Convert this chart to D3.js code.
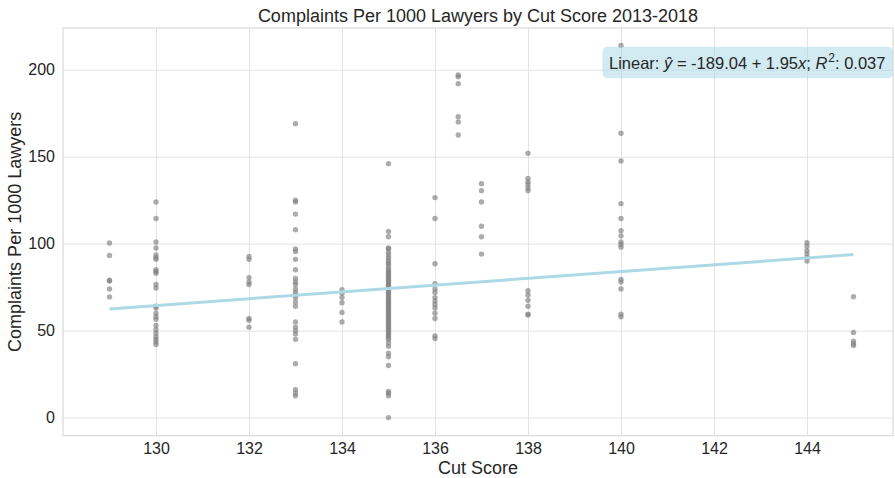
<!DOCTYPE html>
<html>
<head>
<meta charset="utf-8">
<script src="https://cdn.jsdelivr.net/npm/d3@7"></script>
<style>
  html, body { margin: 0; padding: 0; background: #fff; }
  svg { display: block; font-family: "Liberation Sans", Arial, sans-serif; }
</style>
</head>
<body>
<svg id="chart" width="895" height="478"></svg>
<script>
// ---- Data ----
const title = "Complaints Per 1000 Lawyers by Cut Score 2013-2018";
const xLabel = "Cut Score";
const yLabel = "Complaints Per 1000 Lawyers";
const xTicks = [130, 132, 134, 136, 138, 140, 142, 144];
const yTicks = [0, 50, 100, 150, 200];
const cutScores = [129, 130, 132, 133, 134, 135, 136, 136.5, 137, 138, 140, 144, 145];
const complaints129 = [100.4, 93.2, 79, 78.5, 73.9, 69.4];
const complaints130 = [124, 114.5, 101, 97.5, 93.5, 92, 91, 85, 84, 83, 76.5, 74.5, 64, 63, 60, 58, 56.5, 53, 50.5, 48.5, 46.5, 45, 43.5, 42];
const complaints132 = [92.6, 91, 80.5, 78, 76.5, 57, 56, 52];
const complaints133 = [169, 125, 124, 117, 108, 97, 95.5, 91, 85, 80, 78, 76.5, 74, 72, 70.5, 69, 66.5, 64, 55, 52, 50, 48, 45, 31, 16, 14, 12.5];
const complaints134 = [73.5, 71.5, 69, 66, 60.5, 55];
const complaints135 = [146, 107, 104, 97.5, 97, 95, 93.5, 92, 90.5, 89, 88, 86.5, 85, 84, 83, 82, 81, 80, 79, 78, 77, 76, 75, 74, 73, 72, 71, 70, 69, 68, 67, 66, 65, 64, 63, 62, 61, 60, 59, 58, 57, 56, 55, 54, 53, 52, 51, 50, 49, 48, 47, 46, 45, 43, 41, 37, 35, 30, 15, 14, 12.5, 0];
const complaints136 = [126.5, 114.5, 88.5, 77, 74, 72, 69, 67, 65, 63, 60, 57, 47, 45.5];
const complaints1365 = [197, 196, 192, 173, 170, 162.5];
const complaints137 = [134.5, 130.5, 124, 110, 104, 94];
const complaints138 = [152, 137.5, 135.5, 134, 132, 130.5, 73, 70.5, 67.5, 64, 59.5, 59];
const complaints140 = [214, 163.5, 147.5, 123, 114.5, 107.5, 104.5, 101, 99.5, 98, 79.5, 78, 74, 59.5, 58];
const complaints144 = [100.5, 98.5, 96, 94, 92, 90];
const complaints145 = [69.5, 49, 44, 42.5, 41.5];
const regIntercept = -189.04;
const regSlope = 1.95;
const regR2 = 0.037;

const groups = [complaints129, complaints130, complaints132, complaints133, complaints134, complaints135,
  complaints136, complaints1365, complaints137, complaints138, complaints140, complaints144, complaints145];
const points = [];
cutScores.forEach((c, i) => groups[i].forEach(v => points.push({x: c, y: v})));

// ---- Layout ----
const svg = d3.select("#chart");
const L = 63, R = 893, T = 28, B = 435.7;
const x = d3.scaleLinear().domain([128, 145.85]).range([L, R]);
const y = d3.scaleLinear().domain([-10.4, 224]).range([B, T]);
const textColor = "#262626";
const fontFam = "Liberation Sans, Arial, sans-serif";

// grid + x ticks
svg.append("g")
  .attr("transform", `translate(0,${B})`)
  .call(d3.axisBottom(x).tickValues(xTicks).tickSize(-(B - T)).tickFormat(d3.format("d")))
  .call(g => g.select(".domain").remove())
  .call(g => g.selectAll(".tick line").attr("stroke", "#e3e3e3").attr("stroke-width", 1))
  .call(g => g.selectAll(".tick text").attr("fill", textColor).attr("font-size", 16).attr("dy", 0).attr("y", 18.5)
        .attr("font-family", fontFam));

// grid + y ticks
svg.append("g")
  .attr("transform", `translate(${L},0)`)
  .call(d3.axisLeft(y).tickValues(yTicks).tickSize(-(R - L)).tickFormat(d3.format("d")))
  .call(g => g.select(".domain").remove())
  .call(g => g.selectAll(".tick line").attr("stroke", "#e3e3e3").attr("stroke-width", 1))
  .call(g => g.selectAll(".tick text").attr("fill", textColor).attr("font-size", 16).attr("x", -8)
        .attr("font-family", fontFam));

// frame
svg.append("rect").attr("x", L).attr("y", T).attr("width", R - L).attr("height", B - T)
  .attr("fill", "none").attr("stroke", "#d9d9d9").attr("stroke-width", 1.2);

// points
svg.append("g").selectAll("circle").data(points).join("circle")
  .attr("cx", d => x(d.x)).attr("cy", d => y(d.y)).attr("r", 2.7)
  .attr("fill", "#808080").attr("fill-opacity", 0.65);

// regression line
const xMin = d3.min(cutScores), xMax = d3.max(cutScores);
const lineData = [xMin, xMax].map(v => ({x: v, y: regIntercept + regSlope * v}));
svg.append("path").datum(lineData)
  .attr("d", d3.line().x(d => x(d.x)).y(d => y(d.y)))
  .attr("stroke", "#add8e6").attr("stroke-width", 3).attr("fill", "none");

// annotation box
const box = svg.append("g");
box.append("rect").attr("x", 602.5).attr("y", 46.7).attr("width", 290.5).attr("height", 31.6)
  .attr("rx", 5).attr("fill", "#add8e6").attr("fill-opacity", 0.55);
const t = box.append("text").attr("x", 609).attr("y", 68.5).attr("font-size", 16.5).attr("fill", textColor);
t.append("tspan").text("Linear: ");
t.append("tspan").attr("font-style", "italic").text("\u0177");
t.append("tspan").text(` = ${regIntercept.toFixed(2)} + ${regSlope.toFixed(2)}`);
t.append("tspan").attr("font-style", "italic").text("x");
t.append("tspan").text("; ");
t.append("tspan").attr("font-style", "italic").text("R");
t.append("tspan").attr("font-size", 12).attr("dx", 1).attr("dy", -6.5).text("2");
t.append("tspan").attr("dy", 6.5).text(`: ${regR2.toFixed(3)}`);

// title and labels
svg.append("text").attr("x", (L + R) / 2).attr("y", 22).attr("text-anchor", "middle")
  .attr("font-size", 18).attr("fill", textColor).text(title);
svg.append("text").attr("x", (L + R) / 2).attr("y", 474).attr("text-anchor", "middle")
  .attr("font-size", 18).attr("fill", textColor).text(xLabel);
svg.append("text").attr("transform", `translate(21,${(T + B) / 2}) rotate(-90)`).attr("text-anchor", "middle")
  .attr("font-size", 18).attr("fill", textColor).text(yLabel);
</script>
</body>
</html>
